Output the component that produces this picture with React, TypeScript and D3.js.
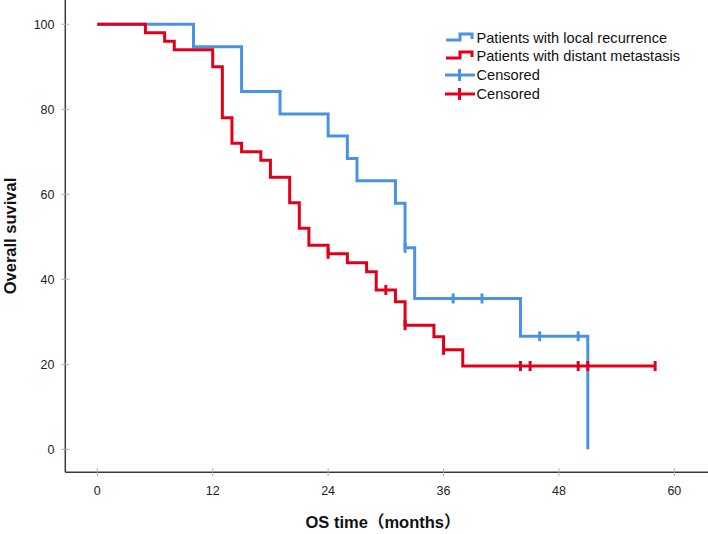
import React, { useEffect, useRef } from 'react';
import * as d3 from 'd3';

// Kaplan-Meier steps: event times (months) and survival (%) after each step
const localTimes = [0, 10, 15, 19, 24, 26, 27, 31, 32, 33, 44, 51];
const localSurv = [100, 94.7, 84.2, 78.9, 73.7, 68.4, 63.2, 57.9, 47.4, 35.5, 26.6, 0];
const localCensored = [32, 37, 40, 46, 50];

const distantTimes = [0, 5, 7, 8, 12, 13, 14, 15, 17, 18, 20, 21, 22, 24, 26, 28, 29, 31, 32, 35, 36, 38, 58];
const distantSurv = [100, 98, 96, 94, 90, 78, 72, 70, 68, 64, 58, 52, 48, 46, 43.9, 41.8, 37.5, 34.7, 29.2, 26.5, 23.4, 19.6, 19.6];
const distantCensored = [24, 30, 32, 36, 44, 45, 50, 51, 58];

const xTicks = [0, 12, 24, 36, 48, 60];
const yTicks = [0, 20, 40, 60, 80, 100];

const legendLabels = [
  'Patients with local recurrence',
  'Patients with distant metastasis',
  'Censored',
  'Censored',
];

const BLUE = '#4a93e4';
const RED = '#e1001a';
const FONT = "'Liberation Sans', Arial, 'Noto Sans CJK SC', sans-serif";

const App: React.FC = () => {
  const svgRef = useRef<SVGSVGElement | null>(null);

  useEffect(() => {
    if (!svgRef.current) return;
    const width = 708;
    const height = 534;
    const svg = d3.select(svgRef.current).attr('width', width).attr('height', height);
    svg.selectAll('*').remove();

    const x = d3.scaleLinear().domain([-3.33, 63.5]).range([65.3, 708]);
    const y = d3.scaleLinear().domain([-5.4, 105.7]).range([472.3, 0]);

    // axes: plain lines with small gray cross ticks
    const axisG = svg.append('g');
    axisG
      .append('line')
      .attr('x1', x.range()[0])
      .attr('x2', x.range()[0])
      .attr('y1', y.range()[1])
      .attr('y2', y.range()[0])
      .attr('stroke', '#3a3a3a')
      .attr('stroke-width', 1.5);
    axisG
      .append('line')
      .attr('x1', x.range()[0])
      .attr('x2', x.range()[1])
      .attr('y1', y.range()[0])
      .attr('y2', y.range()[0])
      .attr('stroke', '#3a3a3a')
      .attr('stroke-width', 1.5);

    axisG
      .selectAll('.ytick')
      .data(yTicks)
      .enter()
      .append('line')
      .attr('x1', x.range()[0] - 4)
      .attr('x2', x.range()[0] + 4)
      .attr('y1', (d) => y(d))
      .attr('y2', (d) => y(d))
      .attr('stroke', '#b0b0b0')
      .attr('stroke-width', 1);
    axisG
      .selectAll('.ylabel')
      .data(yTicks)
      .enter()
      .append('text')
      .attr('x', 54.5)
      .attr('y', (d) => y(d) + 4.5)
      .attr('text-anchor', 'end')
      .attr('font-family', FONT)
      .attr('font-size', 12.5)
      .attr('fill', '#222')
      .text((d) => d);

    axisG
      .selectAll('.xtick')
      .data(xTicks)
      .enter()
      .append('line')
      .attr('x1', (d) => x(d))
      .attr('x2', (d) => x(d))
      .attr('y1', y.range()[0] - 4)
      .attr('y2', y.range()[0] + 4)
      .attr('stroke', '#b0b0b0')
      .attr('stroke-width', 1);
    axisG
      .selectAll('.xlabel')
      .data(xTicks)
      .enter()
      .append('text')
      .attr('x', (d) => x(d))
      .attr('y', 495)
      .attr('text-anchor', 'middle')
      .attr('font-family', FONT)
      .attr('font-size', 12.5)
      .attr('fill', '#222')
      .text((d) => d);

    svg
      .append('text')
      .attr('transform', 'translate(15.5,236) rotate(-90)')
      .attr('text-anchor', 'middle')
      .attr('font-family', FONT)
      .attr('font-size', 16.5)
      .attr('font-weight', 'bold')
      .attr('fill', '#111')
      .text('Overall suvival');

    svg
      .append('text')
      .attr('x', 383)
      .attr('y', 528)
      .attr('text-anchor', 'middle')
      .attr('font-family', FONT)
      .attr('font-size', 16.5)
      .attr('font-weight', 'bold')
      .attr('fill', '#111')
      .text('OS time（months）');

    const drawCurve = (times: number[], surv: number[], censored: number[], color: string) => {
      const pts = times.map((t, i) => [t, surv[i]] as [number, number]);
      const path = d3
        .line<[number, number]>()
        .x((d) => x(d[0]))
        .y((d) => y(d[1]))
        .curve(d3.curveStepAfter);
      svg
        .append('path')
        .datum(pts)
        .attr('d', path)
        .attr('fill', 'none')
        .attr('stroke', color)
        .attr('stroke-width', 3);

      // survival level at a censoring time = last step at or before it
      const bis = d3.bisector((t: number) => t).right;
      const level = (t: number) => surv[Math.max(0, bis(times, t) - 1)];
      svg
        .selectAll(null)
        .data(censored)
        .enter()
        .append('line')
        .attr('x1', (d) => x(d))
        .attr('x2', (d) => x(d))
        .attr('y1', (d) => y(level(d)) - 5)
        .attr('y2', (d) => y(level(d)) + 5)
        .attr('stroke', color)
        .attr('stroke-width', 3);
    };

    drawCurve(localTimes, localSurv, localCensored, BLUE);
    drawCurve(distantTimes, distantSurv, distantCensored, RED);

    // legend
    const lg = svg.append('g');
    const colors = [BLUE, RED, BLUE, RED];
    const rowY = [38, 56, 75, 94];
    legendLabels.forEach((label, i) => {
      const cy = rowY[i];
      const c = colors[i];
      if (i < 2) {
        lg.append('path')
          .attr('d', `M446,${cy + 2}H460V${cy - 4}H472V${cy + 1}`)
          .attr('fill', 'none')
          .attr('stroke', c)
          .attr('stroke-width', 3);
      } else {
        lg.append('line')
          .attr('x1', 445)
          .attr('x2', 475)
          .attr('y1', cy)
          .attr('y2', cy)
          .attr('stroke', c)
          .attr('stroke-width', 3);
        lg.append('line')
          .attr('x1', 459.5)
          .attr('x2', 459.5)
          .attr('y1', cy - 6)
          .attr('y2', cy + 6)
          .attr('stroke', c)
          .attr('stroke-width', 3);
      }
      lg.append('text')
        .attr('x', 476.5)
        .attr('y', cy + 5)
        .attr('font-family', FONT)
        .attr('font-size', 14.6)
        .attr('fill', '#111')
        .text(label);
    });
  }, []);

  return (
    <svg ref={svgRef} style={{ position: 'absolute', left: 0, top: 0, background: '#fff' }}></svg>
  );
};

export default App;
